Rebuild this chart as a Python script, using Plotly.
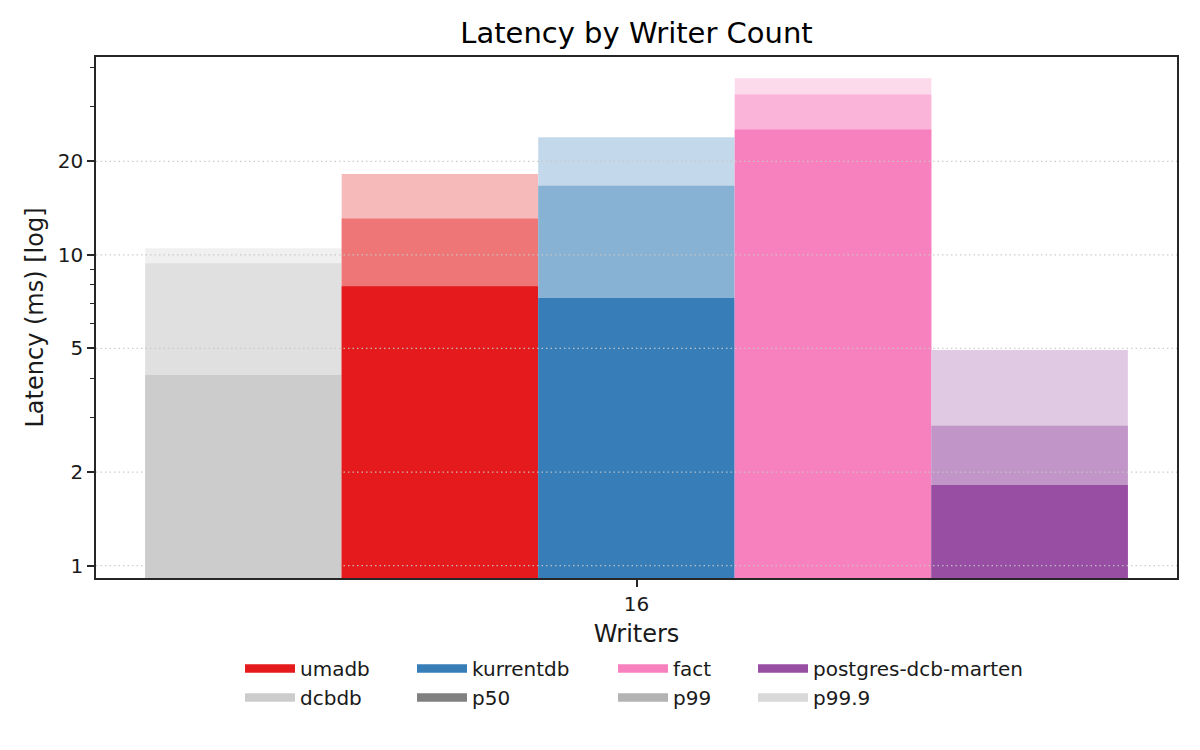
import plotly.graph_objects as go

# ---- data ----
writers = ["16"]
databases = ["dcbdb", "umadb", "kurrentdb", "fact", "postgres-dcb-marten"]
p50 = [4.11, 7.93, 7.26, 25.3, 1.82]
p99 = [9.40, 13.1, 16.7, 32.8, 2.82]
p999 = [10.5, 18.2, 23.9, 37.0, 4.94]
y_tick_vals = [1, 2, 5, 10, 20]
y_tick_text = ["1", "2", "5", "10", "20"]

# ---- styles ----
base_colors = {
    "dcbdb": "#cccccc",
    "umadb": "#e41a1c",
    "kurrentdb": "#377eb8",
    "fact": "#f781bf",
    "postgres-dcb-marten": "#984ea3",
}
pct_alpha = {"p50": 1.0, "p99": 0.6, "p99.9": 0.3}
FONT = "DejaVu Sans"
TEXT = "#1a1a1a"
ITEMW = 50


def blend(hex_color, alpha):
    h = hex_color.lstrip("#")
    rgb = [int(h[i:i + 2], 16) for i in (0, 2, 4)]
    out = [round(255 - alpha * (255 - c)) for c in rgb]
    return "#" + "".join(f"{c:02x}" for c in out)


fig = go.Figure()

# bars: for each db, draw p99.9 (lightest) then p99 then p50 on top, same offsetgroup
for i, db in enumerate(databases):
    for pct, vals in (("p99.9", p999), ("p99", p99), ("p50", p50)):
        fig.add_trace(go.Bar(
            x=writers, y=[vals[i]], offsetgroup=db, name=f"{db} {pct}",
            marker=dict(color=blend(base_colors[db], pct_alpha[pct]), line=dict(width=0)),
            showlegend=False, hovertemplate=f"{db} {pct}: %{{y}} ms<extra></extra>",
        ))

# legend entries (4 columns x 2 rows)
legend_cols = [
    [("umadb", base_colors["umadb"]), ("dcbdb", base_colors["dcbdb"])],
    [("kurrentdb", base_colors["kurrentdb"]), ("p50", blend("#808080", 1.0))],
    [("fact", base_colors["fact"]), ("p99", blend("#808080", 0.6))],
    [("postgres-dcb-marten", base_colors["postgres-dcb-marten"]), ("p99.9", blend("#808080", 0.3))],
]
legend_text_x = [300, 472, 673, 813]
legend_names = ["legend", "legend2", "legend3", "legend4"]
for col, lname in zip(legend_cols, legend_names):
    for label, color in col:
        fig.add_trace(go.Scatter(
            x=[writers[0]], y=[None], mode="lines", name=label,
            line=dict(color=color, width=8.5), legend=lname, showlegend=True,
            hoverinfo="skip",
        ))

legend_layout = {}
for lname, tx in zip(legend_names, legend_text_x):
    legend_layout[lname] = dict(
        x=(tx - ITEMW - 10) / 1200, xref="container", xanchor="left",
        y=1 - 649 / 750, yref="container", yanchor="top",
        orientation="v", font=dict(family=FONT, size=20, color=TEXT),
        bgcolor="rgba(0,0,0,0)", borderwidth=0, itemwidth=ITEMW,
        tracegroupgap=0, traceorder="normal", itemclick=False, itemdoubleclick=False,
    )

# dotted gridlines drawn above the bars
shapes = [
    dict(type="line", xref="paper", x0=0, x1=1, yref="y", y0=v, y1=v, layer="above",
         line=dict(color="rgba(200,200,200,0.9)", width=1.2, dash="1.5px,3px"))
    for v in y_tick_vals
]

ML, MR, MT, MB = 96, 23, 57, 172
plot_w = 1200 - ML - MR

axis_color = "#262626"
fig.update_layout(
    width=1200, height=750,
    margin=dict(l=ML, r=MR, t=MT, b=MB, autoexpand=False),
    paper_bgcolor="white", plot_bgcolor="white",
    font=dict(family=FONT, size=20, color=TEXT),
    barmode="group", bargap=0.1, bargroupgap=0,
    title=dict(text="Latency by Writer Count", x=0.5, xanchor="center",
               xref="paper", y=1 - 32.5 / 750, yref="container", yanchor="middle",
               font=dict(family=FONT, size=29, color="black")),
    xaxis=dict(
        type="category", range=[-0.495, 0.495],
        showline=True, linecolor=axis_color, linewidth=1.6, mirror=True,
        ticks="outside", ticklen=7, tickwidth=1.6, tickcolor=axis_color,
        tickfont=dict(family=FONT, size=20, color=TEXT),
        showgrid=False, zeroline=False, automargin=True,
        title=dict(text="Writers", font=dict(family=FONT, size=24, color=TEXT), standoff=10),
    ),
    yaxis=dict(
        type="log", range=[-0.0395, 1.6365],
        tickmode="array", tickvals=y_tick_vals, ticktext=y_tick_text,
        showline=True, linecolor=axis_color, linewidth=1.6, mirror=True,
        ticks="outside", ticklen=7, tickwidth=1.6, tickcolor=axis_color,
        tickfont=dict(family=FONT, size=20, color=TEXT),
        minor=dict(dtick="D1", ticks="outside",
                   ticklen=4, tickwidth=1.2, tickcolor=axis_color, showgrid=False),
        showgrid=False, zeroline=False, automargin=True,
    ),
    shapes=shapes,
    annotations=[dict(
        text="Latency (ms) [log]", textangle=-90, showarrow=False,
        xref="paper", x=(34 - ML) / plot_w, xanchor="center",
        yref="paper", y=0.5, yanchor="middle",
        font=dict(family=FONT, size=24, color=TEXT),
    )],
    **legend_layout,
)

fig.write_html("out.html", config={"displayModeBar": False},
               post_script="document.body.style.margin='0';")
